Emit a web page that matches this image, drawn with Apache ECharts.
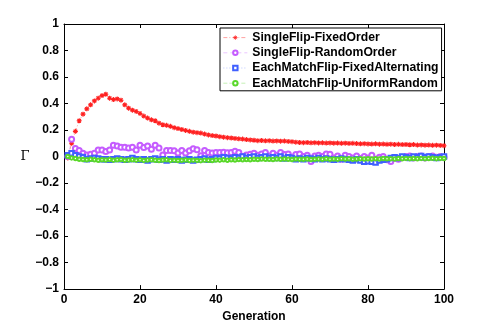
<!DOCTYPE html>
<html>
<head>
<meta charset="utf-8">
<script src="https://cdn.jsdelivr.net/npm/echarts@6/dist/echarts.min.js"></script>
<style>html,body{margin:0;padding:0;background:#fff;}#c{width:491px;height:328px;}</style>
</head>
<body>
<div id="c"></div>
<script>
const seriesNames = ['SingleFlip-FixedOrder','SingleFlip-RandomOrder','EachMatchFlip-FixedAlternating','EachMatchFlip-UniformRandom'];
const xTicks = [0,20,40,60,80,100];
const yTicks = [-1,-0.8,-0.6,-0.4,-0.2,0,0.2,0.4,0.6,0.8,1];

const fixedOrder = [
 -0.01,0.10,0.19,0.27,0.32,0.36,0.39,0.42,0.44,0.46,
 0.47,0.44,0.43,0.435,0.425,0.39,0.365,0.35,0.34,0.325,
 0.305,0.29,0.277,0.27,0.252,0.24,0.236,0.228,0.218,0.211,
 0.204,0.197,0.19,0.184,0.18,0.177,0.17,0.163,0.158,0.155,
 0.15,0.146,0.142,0.14,0.137,0.134,0.132,0.128,0.125,0.123,
 0.12,0.121,0.119,0.12,0.117,0.118,0.116,0.117,0.114,0.112,
 0.108,0.106,0.105,0.106,0.104,0.105,0.103,0.104,0.102,0.103,
 0.101,0.102,0.1,0.101,0.099,0.1,0.098,0.096,0.097,0.095,
 0.094,0.096,0.093,0.094,0.092,0.093,0.091,0.092,0.09,0.091,
 0.089,0.09,0.087,0.088,0.086,0.087,0.085,0.086,0.084,0.082
];
const randomOrder = [
 0.0,0.13,0.06,0.045,0.025,0.011,0.018,0.025,0.05,0.05,
 0.038,0.05,0.085,0.08,0.07,0.07,0.065,0.07,0.05,0.085,
 0.068,0.08,0.055,0.085,0.065,0.012,0.045,0.046,0.044,0.026,
 0.045,0.027,0.044,0.058,0.052,0.006,0.045,0.03,0.026,0.031,
 0.03,0.033,0.028,0.031,0.04,0.03,0.0,0.012,0.018,0.025,
 0.01,0.02,0.03,0.005,0.025,0.01,0.03,0.015,0.02,-0.005,
 0.015,0.02,0.0,0.01,-0.038,0.005,0.01,0.0,0.02,0.018,
 -0.01,0.005,-0.02,0.01,0.0,-0.01,0.005,-0.015,0.0,-0.01,
 0.01,-0.02,-0.005,0.0,-0.025,-0.038,-0.01,-0.02,-0.005,0.0,
 0.005,-0.01,0.0,0.005,-0.01,0.0,0.005,-0.005,0.0,-0.005
];
const fixedAlternating = [
 0.01,0.025,0.01,0.0,-0.005,-0.02,-0.015,-0.01,-0.015,-0.02,
 -0.02,-0.025,-0.02,-0.015,-0.02,-0.025,-0.02,-0.01,-0.02,-0.025,
 -0.02,-0.03,-0.02,-0.015,-0.025,-0.02,-0.03,-0.02,-0.025,-0.02,
 -0.03,-0.025,-0.02,-0.03,-0.025,-0.02,-0.015,-0.025,-0.02,-0.01,
 -0.015,-0.005,-0.01,-0.015,-0.005,-0.01,0.0,-0.01,-0.005,0.0,
 -0.01,-0.005,0.0,-0.01,-0.005,-0.01,0.0,-0.015,-0.005,-0.01,
 -0.02,-0.015,-0.02,-0.01,-0.015,-0.02,-0.01,-0.02,-0.015,-0.02,
 -0.025,-0.02,-0.015,-0.02,-0.025,-0.03,-0.02,-0.03,-0.04,-0.035,
 -0.04,-0.045,-0.03,-0.025,-0.02,-0.01,-0.005,-0.01,0.0,-0.005,
 -0.01,0.0,-0.005,0.005,-0.005,0.0,-0.005,-0.01,-0.005,0.0
];
const uniformRandom = [
 0.0,-0.01,-0.015,-0.02,-0.022,-0.025,-0.02,-0.025,-0.028,-0.024,
 -0.026,-0.022,-0.027,-0.025,-0.023,-0.028,-0.026,-0.024,-0.027,-0.025,
 -0.029,-0.026,-0.024,-0.028,-0.03,-0.026,-0.025,-0.029,-0.027,-0.03,
 -0.028,-0.026,-0.03,-0.027,-0.029,-0.031,-0.027,-0.028,-0.03,-0.026,
 -0.027,-0.025,-0.028,-0.024,-0.026,-0.023,-0.025,-0.022,-0.024,-0.02,
 -0.022,-0.019,-0.021,-0.02,-0.023,-0.019,-0.021,-0.018,-0.02,-0.022,
 -0.019,-0.021,-0.02,-0.018,-0.022,-0.02,-0.019,-0.021,-0.017,-0.02,
 -0.018,-0.02,-0.016,-0.019,-0.017,-0.02,-0.018,-0.016,-0.019,-0.017,
 -0.018,-0.016,-0.019,-0.015,-0.017,-0.016,-0.018,-0.015,-0.017,-0.014,
 -0.016,-0.015,-0.017,-0.014,-0.016,-0.015,-0.013,-0.016,-0.014,-0.015
];

function pairs(arr){ return arr.map((v,i)=>[i+1,v]); }
function fmt(v){
  const r = Math.round(v*10)/10;
  if (r === 0) return '0';
  const s = String(Math.abs(r));
  return (r < 0 ? '\u2212' : '') + s;
}

const FONT = '"Liberation Sans", Helvetica, Arial, sans-serif';
const axisCommon = {
  axisLine:{show:true,onZero:false,lineStyle:{color:'#000',width:1}},
  axisTick:{show:true,inside:true,length:4,lineStyle:{color:'#000'}},
  splitLine:{show:false}
};

const chart = echarts.init(document.getElementById('c'), null, {renderer:'canvas'});
chart.setOption({
  animation:false,
  backgroundColor:'#fff',
  grid:{left:64,top:24,width:380,height:267,containLabel:false},
  legend:{
    orient:'vertical', left:220, top:28,
    data:seriesNames,
    backgroundColor:'#fff', borderColor:'#000', borderWidth:1,
    padding:[2,3,0,3],
    itemWidth:24, itemHeight:5.5, itemGap:0,
    itemStyle:{borderWidth:0.8},
    lineStyle:{width:0.7},
    textStyle:{fontFamily:FONT,fontWeight:'bold',fontSize:12.2,color:'#000',lineHeight:15.2}
  },
  xAxis:[
    Object.assign({type:'value',position:'bottom',min:0,max:100,interval:20,
      name:'Generation',nameLocation:'middle',nameGap:17,
      nameTextStyle:{fontFamily:FONT,fontWeight:'bold',fontSize:12,color:'#000'},
      axisLabel:{fontFamily:FONT,fontWeight:'bold',fontSize:12,color:'#000',margin:5}
    }, axisCommon),
    Object.assign({type:'value',position:'top',min:0,max:100,interval:20,axisLabel:{show:false}}, axisCommon)
  ],
  yAxis:[
    Object.assign({type:'value',position:'left',min:-1,max:1,interval:0.2,
      name:'Γ',nameLocation:'middle',nameRotate:0,nameGap:29,
      nameTextStyle:{fontFamily:'"DejaVu Serif", "Liberation Serif", serif',fontSize:13,color:'#000'},
      axisLabel:{fontFamily:FONT,fontWeight:'bold',fontSize:12,color:'#000',margin:5,
        formatter:fmt}
    }, axisCommon),
    Object.assign({type:'value',position:'right',min:-1,max:1,interval:0.2,axisLabel:{show:false}}, axisCommon)
  ],
  series:[
    {name:seriesNames[0],type:'line',data:pairs(fixedOrder),
      symbol:'path://M5,0L5,10M0,5L10,5M1.5,1.5L8.5,8.5M8.5,1.5L1.5,8.5',symbolSize:5,
      itemStyle:{color:'#ff2020',borderColor:'#ff2020',borderWidth:1.1},
      lineStyle:{color:'#ff2020',width:0.7,type:[4,2,1,2],opacity:0.6}},
    {name:seriesNames[1],type:'line',data:pairs(randomOrder),
      symbol:'emptyCircle',symbolSize:5,
      itemStyle:{color:'#c55cff',borderColor:'#c55cff',borderWidth:0.8},
      lineStyle:{color:'#c55cff',width:0.5,type:[4,3],opacity:0.5}},
    {name:seriesNames[2],type:'line',data:pairs(fixedAlternating),
      symbol:'emptyRect',symbolSize:4.5,
      itemStyle:{color:'#4060ff',borderColor:'#4060ff',borderWidth:0.8},
      lineStyle:{color:'#4060ff',width:0.5,type:[1,2],opacity:0.5}},
    {name:seriesNames[3],type:'line',data:pairs(uniformRandom),
      symbol:'emptyCircle',symbolSize:3.5,
      itemStyle:{color:'#5ad82a',borderColor:'#5ad82a',borderWidth:1},
      lineStyle:{color:'#5ad82a',width:0.5,type:[4,2],opacity:0.5}}
  ]
});
</script>
</body>
</html>
